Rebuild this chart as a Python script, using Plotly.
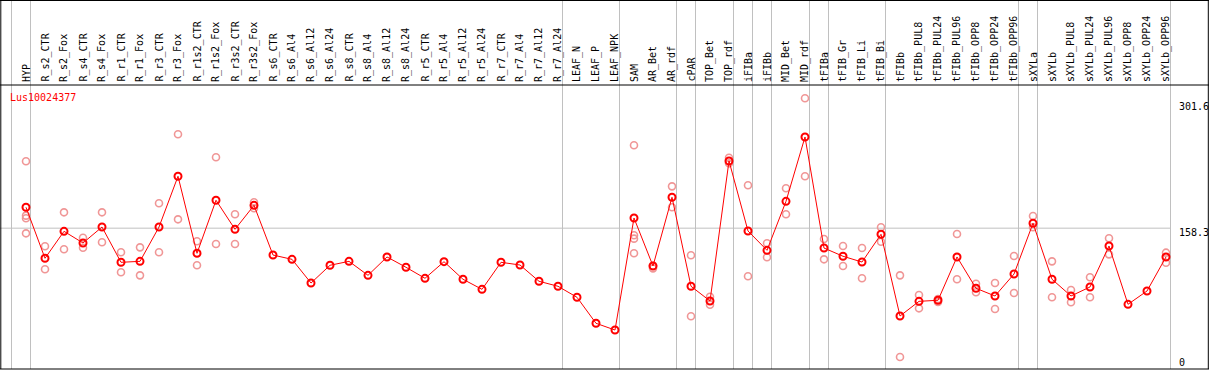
import plotly.graph_objects as go

# ---------------- data ----------------
categories = [
    "HYP", "R_s2_CTR", "R_s2_Fox", "R_s4_CTR", "R_s4_Fox", "R_r1_CTR", "R_r1_Fox",
    "R_r3_CTR", "R_r3_Fox", "R_r1s2_CTR", "R_r1s2_Fox", "R_r3s2_CTR", "R_r3s2_Fox",
    "R_s6_CTR", "R_s6_Al4", "R_s6_Al12", "R_s6_Al24", "R_s8_CTR", "R_s8_Al4",
    "R_s8_Al12", "R_s8_Al24", "R_r5_CTR", "R_r5_Al4", "R_r5_Al12", "R_r5_Al24",
    "R_r7_CTR", "R_r7_Al4", "R_r7_Al12", "R_r7_Al24", "LEAF_N", "LEAF_P", "LEAF_NPK",
    "SAM", "AR_Bet", "AR_rdf", "cPAR", "TOP_Bet", "TOP_rdf", "iFIBa", "iFIBb",
    "MID_Bet", "MID_rdf", "tFIBa", "tFIB_Gr", "tFIB_Li", "tFIB_Bi", "tFIBb",
    "tFIBb_PUL8", "tFIBb_PUL24", "tFIBb_PUL96", "tFIBb_OPP8", "tFIBb_OPP24",
    "tFIBb_OPP96", "sXYLa", "sXYLb", "sXYLb_PUL8", "sXYLb_PUL24", "sXYLb_PUL96",
    "sXYLb_OPP8", "sXYLb_OPP24", "sXYLb_OPP96",
]

means = [
    182.2, 123.9, 154.7, 141.4, 159.6, 119.3, 120.4, 159.6, 217.6, 129.6,
    190.2, 157.0, 184.4, 127.6, 122.7, 95.6, 115.9, 120.4, 104.4, 125.4,
    113.6, 101.0, 120.0, 99.9, 88.4, 119.3, 116.2, 97.6, 91.9, 79.3,
    49.6, 41.9, 169.9, 115.1, 193.6, 91.9, 75.1, 235.1, 155.1, 133.0,
    189.0, 262.5, 135.6, 126.2, 119.6, 151.3, 57.9, 74.7, 75.9, 125.4,
    89.6, 80.8, 105.9, 163.9, 99.9, 80.8, 91.1, 137.9, 71.3, 86.5, 125.4,
]

replicates = [
    [234.7, 172.6, 169.6, 152.4], [137.6, 111.3], [176.4, 134.2], [147.4, 136.0],
    [176.4, 142.2], [130.7, 107.9], [136.4, 104.4], [186.7, 130.7], [265.6, 168.4],
    [143.3, 115.9], [239.3, 140.2], [174.2, 140.2], [187.9, 181.0],
    [], [], [], [], [], [], [], [], [], [], [], [], [], [], [], [], [], [], [],
    [253.0, 150.2, 146.3, 129.6], [115.4, 112.4], [206.1, 182.2], [127.3, 57.6],
    [80.0, 70.8], [238.8, 232.4], [207.3, 103.3], [141.0, 125.0], [203.9, 174.2],
    [306.7, 217.6], [145.9, 122.7], [137.9, 115.1], [135.6, 101.0], [159.3, 142.8],
    [104.4, 11.1], [81.9, 66.7], [77.4, 73.9], [151.6, 99.9], [94.8, 85.0],
    [95.6, 65.9], [126.5, 84.2], [172.2, 159.3], [120.4, 79.3], [87.6, 73.6],
    [102.2, 79.3], [146.7, 128.4], [], [], [130.3, 118.8],
]

group_starts = [0, 1, 29, 32, 35, 36, 38, 39, 40, 42, 43, 46, 53, 54, 61]
tick_values = [0, 158.3, 301.6]
tick_labels = ["0", "158.3", "301.6"]
grid_value = 158.3
title_text = "Lus10024377"

# ---------------- geometry ----------------
W, H = 1209, 370
x0_px, dx_px = 26.0, 19.0          # pixel of first category, spacing
y0_px, dy_px = 366.7, 0.8751       # pixel of value 0, pixels per unit
header_px = 85                     # label band height
sep_off = 14.5 / dx_px             # separator offset left of group start

x_range = [-x0_px / dx_px, (W - x0_px) / dx_px]
y_range = [(y0_px - H) / dy_px, y0_px / dy_px]


def py(p):
    return 1 - p / H


def px(p):
    return p / W


FONT = "DejaVu Sans Mono"
RED = "#ff0000"
PINK = "rgb(240,150,150)"
GRAY = "rgb(192,192,192)"

fig = go.Figure()

# replicate points
rx, ry = [], []
for i, reps in enumerate(replicates):
    for v in reps:
        rx.append(i)
        ry.append(v)
fig.add_trace(go.Scatter(
    x=rx, y=ry, mode="markers",
    marker=dict(symbol="circle-open", size=7, color=PINK, line=dict(width=1.6, color=PINK)),
    hoverinfo="skip", showlegend=False, cliponaxis=False,
))

# mean line + markers
fig.add_trace(go.Scatter(
    x=list(range(len(categories))), y=means, mode="lines+markers",
    line=dict(color=RED, width=1),
    marker=dict(symbol="circle-open", size=7, color=RED, line=dict(width=2, color=RED)),
    text=categories, showlegend=False, cliponaxis=False,
))

shapes = []
last_x = group_starts[-1] - sep_off
# horizontal grid line at the middle tick value
shapes.append(dict(type="line", xref="paper", yref="y", x0=0, x1=px(x0_px + dx_px * last_x),
                   y0=grid_value, y1=grid_value, line=dict(color=GRAY, width=1), layer="below"))
# group separators (full height)
for k in group_starts:
    shapes.append(dict(type="line", xref="x", yref="paper", x0=k - sep_off, x1=k - sep_off,
                       y0=py(369), y1=1, line=dict(color=GRAY, width=1), layer="below"))
# black frame
blk = dict(color="black", width=1)
shapes.append(dict(type="line", xref="paper", yref="paper", x0=0, x1=1, y0=py(0.5), y1=py(0.5), line=blk))
shapes.append(dict(type="line", xref="paper", yref="paper", x0=0, x1=1, y0=py(header_px), y1=py(header_px), line=blk))
shapes.append(dict(type="line", xref="paper", yref="paper", x0=0, x1=1, y0=py(369), y1=py(369), line=blk))
shapes.append(dict(type="line", xref="paper", yref="paper", x0=px(0.8), x1=px(0.8), y0=py(369), y1=1, line=blk))
shapes.append(dict(type="line", xref="paper", yref="paper", x0=px(1208.3), x1=px(1208.3), y0=py(369), y1=1, line=blk))

annotations = []
# rotated category labels
for i, c in enumerate(categories):
    annotations.append(dict(
        x=i, y=py(header_px - 2), xref="x", yref="paper", text=c, textangle=-90,
        xanchor="center", yanchor="bottom", showarrow=False,
        font=dict(family=FONT, size=10, color="black"), borderpad=0,
    ))
# title
annotations.append(dict(
    x=px(8.5), y=py(97), xref="paper", yref="paper", text=title_text,
    xanchor="left", yanchor="middle", showarrow=False,
    font=dict(family=FONT, size=10, color=RED), borderpad=0,
))
# right-hand value labels
for v, t in zip(tick_values, tick_labels):
    centre = min(y0_px - v * dy_px + 4, 362)
    annotations.append(dict(
        x=px(1177.5), y=py(centre), xref="paper", yref="paper", text=t,
        xanchor="left", yanchor="middle", showarrow=False,
        font=dict(family=FONT, size=10, color="black"), borderpad=0,
    ))

fig.update_layout(
    width=W, height=H,
    margin=dict(l=0, r=0, t=0, b=0),
    paper_bgcolor="white", plot_bgcolor="white",
    xaxis=dict(range=x_range, visible=False, fixedrange=True),
    yaxis=dict(range=y_range, visible=False, fixedrange=True),
    shapes=shapes, annotations=annotations,
    showlegend=False,
)

fig.write_html(
    "out.html",
    config={"displayModeBar": False},
    post_script="document.body.style.margin='0px';document.body.style.overflow='hidden';",
)
